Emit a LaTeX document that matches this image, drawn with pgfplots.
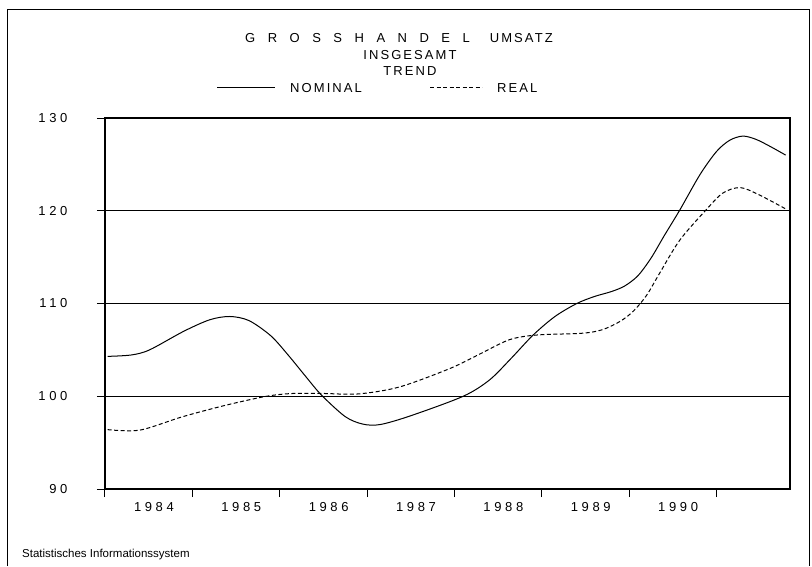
\documentclass[border=0pt]{standalone}
\usepackage{fontspec}
\usepackage{pgfplots}
\pgfplotsset{compat=1.18}
\newfontfamily\plotfont[LetterSpace=16]{Liberation Sans}
\newfontfamily\tickfont[LetterSpace=28]{Liberation Sans}
\newfontfamily\footfont{Liberation Sans}
\newcommand\gs{\hspace{12.5pt}}
\begin{document}
\begin{tikzpicture}[x=1pt,y=1pt]
\useasboundingbox (0,0) rectangle (812,566);
% outer frame
\draw[line width=0.9pt] (7,0) -- (7,557) -- (809,557) -- (809,0);
\begin{axis}[
  at={(105pt,77pt)}, anchor=south west,
  scale only axis, width=685pt, height=371pt,
  xmin=0, xmax=7.84, ymin=90, ymax=130,
  axis line style={line width=1.3pt},
  tick style={black, line width=1pt},
  tick align=outside, tick pos=left,
  major tick length=8pt,
  xtick={0,1,...,7}, xticklabels={},
  extra x ticks={0.56,1.56,2.56,3.56,4.56,5.56,6.56},
  extra x tick labels={1984,1985,1986,1987,1988,1989,1990},
  extra x tick style={major tick length=0pt, grid=none, xticklabel style={yshift=-10pt}},
  ytick={90,100,...,130},
  ymajorgrids=true,
  grid style={black, line width=1.2pt},
  /pgf/number format/assume math mode=true,
  ticklabel style={font=\fontsize{13}{15}\tickfont},
  yticklabel style={xshift=-26pt},
  clip=false,
]
\addplot[black, line width=1pt, smooth, tension=0.5] coordinates {
(0.03,104.3) (0.3,104.45) (0.51,105.0) (0.9,107.0) (1.2,108.25) (1.43,108.6)
(1.65,108.15) (1.9,106.5) (2.1,104.4) (2.3,102.1) (2.48,100.1) (2.75,97.8) (2.95,97.0) (3.15,96.95)
(3.5,97.9) (4.1,100.0) (4.40,101.75) (4.65,104.1) (4.90,106.6) (5.15,108.6)
(5.40,110.0) (5.6,110.75) (5.8,111.3) (5.95,111.9) (6.1,113.0) (6.25,114.9) (6.4,117.3) (6.58,120.1)
(6.81,123.9) (7.0,126.4) (7.15,127.6) (7.30,128.05) (7.45,127.7) (7.62,126.9) (7.79,126.0)
};
\addplot[black, line width=1pt, smooth, tension=0.5, dash pattern=on 4pt off 2.5pt] coordinates {
(0.03,96.4) (0.4,96.35) (0.89,97.8) (1.39,99.05) (1.85,100.0) (2.15,100.3)
(2.5,100.3) (2.9,100.25) (3.37,101.0) (3.95,103.0) (4.3,104.6) (4.63,106.1)
(4.94,106.6) (5.47,106.8) (5.70,107.2) (5.9,108.1) (6.05,109.2) (6.2,110.9) (6.35,113.3)
(6.58,116.85) (6.88,120.1) (7.07,121.9) (7.27,122.5) (7.49,121.7) (7.80,120.15)
};
\end{axis}
% titles
\node[font=\fontsize{13}{15}\plotfont, anchor=west, inner sep=0pt] at (245,528) {G\gs R\gs O\gs S\gs S\gs H\gs A\gs N\gs D\gs E\gs L\hspace{20pt}UMSATZ};
\node[font=\fontsize{13}{15}\plotfont] at (410,511) {INSGESAMT};
\node[font=\fontsize{13}{15}\plotfont] at (410,495) {TREND};
% legend
\draw[line width=1pt] (217,478) -- (275,478);
\node[font=\fontsize{13}{15}\plotfont, anchor=west, inner sep=0pt] at (290,478) {NOMINAL};
\draw[line width=1pt, dash pattern=on 4pt off 2.5pt] (430,478) -- (482,478);
\node[font=\fontsize{13}{15}\plotfont, anchor=west, inner sep=0pt] at (497,478) {REAL};
% footer
\node[font=\fontsize{11.5}{13}\footfont, anchor=west, inner sep=0pt] at (22,11) {Statistisches Informationssystem};
\end{tikzpicture}
\end{document}
